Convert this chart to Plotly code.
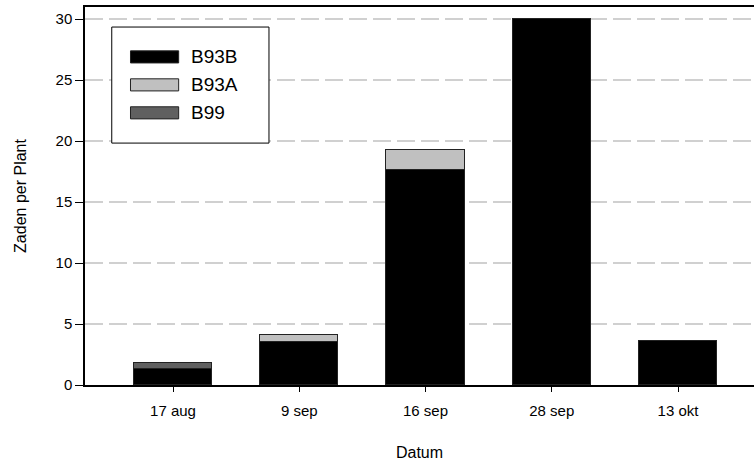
import plotly.graph_objects as go

categories = ["17 aug", "9 sep", "16 sep", "28 sep", "13 okt"]
b93b = [1.3, 3.5, 17.6, 30.0, 3.6]
b93a = [0.0, 0.6, 1.7, 0.0, 0.0]
b99 = [0.5, 0.0, 0.0, 0.0, 0.0]

series = [("B93B", b93b, "#000000"), ("B93A", b93a, "#c0c0c0"), ("B99", b99, "#606060")]

FONT = "Liberation Sans, Arial, sans-serif"

fig = go.Figure()
for name, vals, col in series:
    fig.add_trace(go.Bar(
        x=list(range(len(categories))), y=vals, name=name,
        marker=dict(color=col, line=dict(color="#222222", width=1)),
        width=0.62, showlegend=False,
    ))

# custom legend (paper coordinates)
fig.add_shape(type="rect", xref="paper", yref="paper", x0=0.040, x1=0.275, y0=0.640, y1=0.947,
              line=dict(color="black", width=1), fillcolor="white", layer="above")
ys = [0.868, 0.794, 0.720]
for (name, vals, col), yc in zip(series, ys):
    fig.add_shape(type="rect", xref="paper", yref="paper", x0=0.068, x1=0.140,
                  y0=yc - 0.016, y1=yc + 0.016, fillcolor=col,
                  line=dict(color="#222222", width=1), layer="above")
    fig.add_annotation(xref="paper", yref="paper", x=0.155, y=yc, text=name,
                       showarrow=False, xanchor="left", yanchor="middle",
                       font=dict(family=FONT, size=19, color="black"))

fig.update_layout(
    barmode="stack",
    width=756, height=463,
    margin=dict(l=85, r=2, t=7, b=78),
    plot_bgcolor="white", paper_bgcolor="white",
    font=dict(family=FONT, color="black"),
    bargap=0,
)
fig.update_xaxes(
    range=[-0.697, 4.602],
    tickmode="array", tickvals=list(range(len(categories))), ticktext=categories,
    ticks="outside", ticklen=5, tickcolor="black", tickwidth=1,
    ticklabelstandoff=6,
    showline=True, linecolor="black", linewidth=1.5, mirror=True,
    showgrid=False, zeroline=False, automargin=False,
    tickfont=dict(size=15),
    title=dict(text="Datum", font=dict(size=16), standoff=29),
)
fig.update_yaxes(
    range=[0, 31.0],
    tickvals=[0, 5, 10, 15, 20, 25, 30],
    ticks="outside", ticklen=8, tickcolor="black", tickwidth=1,
    showline=True, linecolor="black", linewidth=1.5,
    showgrid=True, gridcolor="#d0d0d0", gridwidth=1.5, griddash="18px,6px",
    zeroline=False, automargin=False,
    tickfont=dict(size=15),
    title=dict(text="Zaden per Plant", font=dict(size=16), standoff=25),
)

fig.write_html("out.html")
